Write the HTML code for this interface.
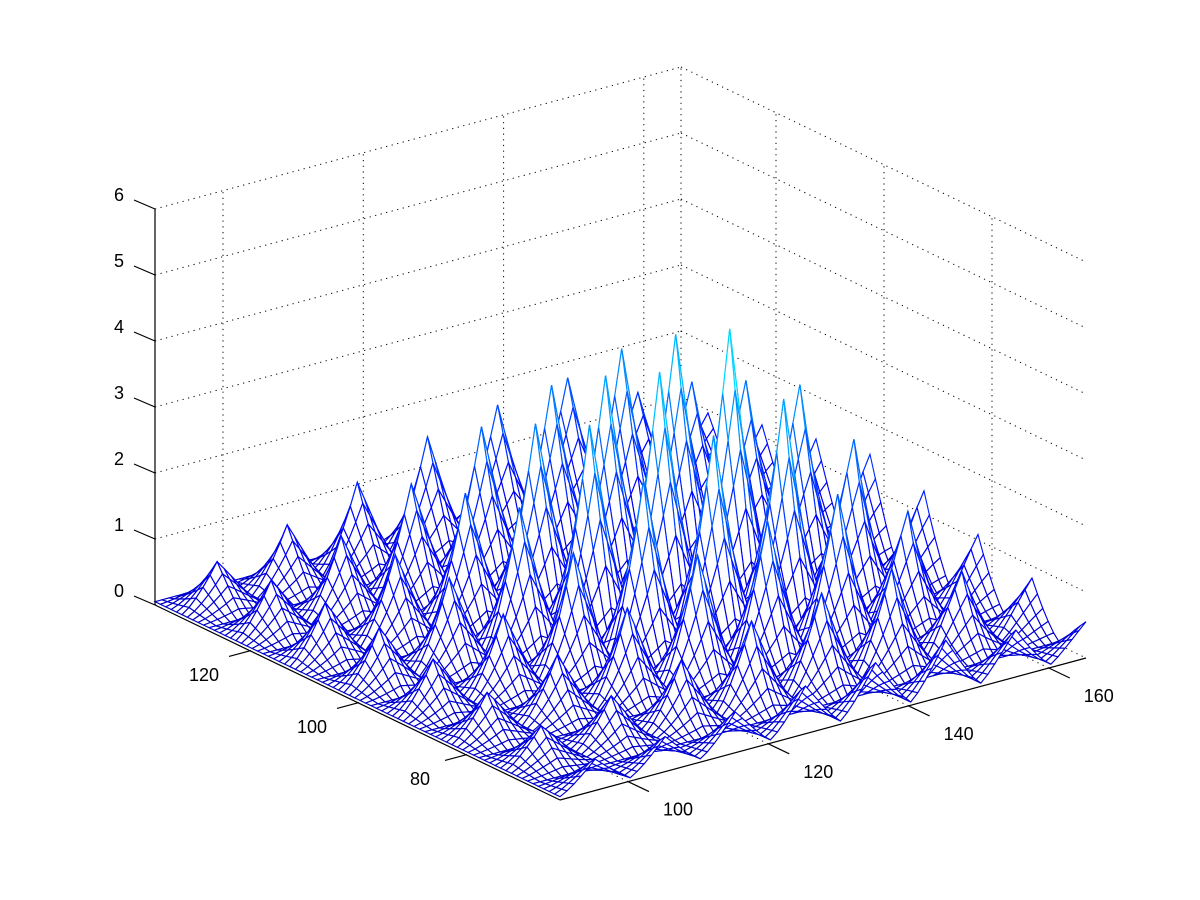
<!DOCTYPE html>
<html><head><meta charset="utf-8"><style>
html,body{margin:0;padding:0;background:#fff;}
svg{display:block;font-family:"Liberation Sans",sans-serif;}
</style></head><body>
<svg id="chart" width="1200" height="900" viewBox="0 0 1200 900" xmlns="http://www.w3.org/2000/svg">
<rect x="0" y="0" width="1200" height="900" fill="#fff"/>
<g id="grid"></g>
<g id="surf"></g>
<g id="axes"></g>
</svg>
<script>
const xTicks = [100, 120, 140, 160];
const yTicks = [80, 100, 120];
const zTicks = [0, 1, 2, 3, 4, 5, 6];
const xRange = [90.3, 165.3];
const yRange = [62.6, 137.6];
const period = 10;
// coarse peak amplitudes, rows = y from high (back-left) to low (front), cols = x low..high
const ampRow0 = [0.5, 0.9, 1.5, 1.6, 0.8];
const ampRow1 = [0.6, 1.4, 2.6, 3.2, 1.2];
const ampRow2 = [0.6, 1.5, 3.4, 4.1, 1.5];
const ampRow3 = [0.5, 1.0, 1.9, 2.1, 1.0];
const ampRow4 = [0.4, 0.5, 0.7, 0.8, 0.5];
const ampGrid = [ampRow0, ampRow1, ampRow2, ampRow3, ampRow4];

const NS = "http://www.w3.org/2000/svg";
const L = [155, 605], FR = [526, -142], LF = [405, 195], ZU = 66;
function proj(x, y, z) {
  const a = (x - xRange[0]) / (xRange[1] - xRange[0]);
  const b = (yRange[1] - y) / (yRange[1] - yRange[0]);
  return [L[0] + FR[0]*a + LF[0]*b, L[1] + FR[1]*a + LF[1]*b - ZU*z];
}
function mk(tag, attrs, parent) {
  const e = document.createElementNS(NS, tag);
  for (const k in attrs) e.setAttribute(k, attrs[k]);
  parent.appendChild(e);
  return e;
}
function line(p, q, parent, style) {
  return mk('line', Object.assign({x1:p[0].toFixed(1), y1:p[1].toFixed(1), x2:q[0].toFixed(1), y2:q[1].toFixed(1)}, style), parent);
}
const grid = document.getElementById('grid');
const dot = {stroke:'#000', 'stroke-width':1, 'stroke-dasharray':'1.2 4.5'};
const x0 = xRange[0], x1 = xRange[1], y0 = yRange[0], y1 = yRange[1];
zTicks.forEach(z => {
  let l = line(proj(x0,y1,z), proj(x1,y1,z), grid, dot);
  
  
  l = line(proj(x1,y1,z), proj(x1,y0,z), grid, dot);
  
  
});
xTicks.forEach(x => {
  let l = line(proj(x,y1,0), proj(x,y1,6), grid, dot);
  
  
  l = line(proj(x,y0,0), proj(x,y1,0), grid, dot);
  
  
});
yTicks.forEach(y => {
  let l = line(proj(x1,y,0), proj(x1,y,6), grid, dot);
  
  
  l = line(proj(x0,y,0), proj(x1,y,0), grid, dot);
  
  
});
let vl = line(proj(x1,y1,0), proj(x1,y1,6), grid, dot);



function amp(x, y) {
  const a = (x - x0) / (x1 - x0) * 4, b = (y1 - y) / (y1 - y0) * 4;
  const i = Math.min(3, Math.floor(b)), j = Math.min(3, Math.floor(a));
  const fb = b - i, fa = a - j;
  return ampGrid[i][j]*(1-fa)*(1-fb) + ampGrid[i][j+1]*fa*(1-fb) + ampGrid[i+1][j]*(1-fa)*fb + ampGrid[i+1][j+1]*fa*fb;
}
function zval(x, y) {
  let u = ((x - x0) % period) / (period/2) - 1;
  let v = ((y1 - y) % period) / (period/2) - 1;
  const p = (1 - Math.abs(u)) * (1 - Math.abs(v));
  return amp(x, y) * Math.pow(p, 1.2) + 0.05;
}
function jet(t) {
  t = Math.max(0, Math.min(1, t));
  const r = Math.max(0, Math.min(1, 1.5 - Math.abs(4*t - 3)));
  const g = Math.max(0, Math.min(1, 1.5 - Math.abs(4*t - 2)));
  const b = Math.max(0, Math.min(1, 1.5 - Math.abs(4*t - 1)));
  return 'rgb(' + Math.round(r*255) + ',' + Math.round(g*255) + ',' + Math.round(b*255) + ')';
}
const N = 75;
const xs = [], ys = [];
for (let i = 0; i <= N; i++) { xs.push(x0 + (x1-x0)*i/N); ys.push(y0 + (y1-y0)*i/N); }
const Z = ys.map(y => xs.map(x => zval(x, y)));
const quads = [];
for (let j = 0; j < N; j++) for (let i = 0; i < N; i++) {
  const a = (xs[i] - x0)/(x1-x0), b = (y1 - ys[j])/(y1-y0);
  quads.push({i, j, d: -142*a + 195*b});
}
quads.sort((p, q) => p.d - q.d);
const surf = document.getElementById('surf');
let html = '';
quads.forEach(q => {
  const i = q.i, j = q.j;
  const pts = [[i,j],[i+1,j],[i+1,j+1],[i,j+1]].map(([a,b]) => proj(xs[a], ys[b], Z[b][a]));
  const zm = (Z[j][i] + Z[j][i+1] + Z[j+1][i] + Z[j+1][i+1]) / 4;
  const c = jet(0.065 + zm / 11.5);
  html += '<path d="M' + pts.map(p => p[0].toFixed(1) + ' ' + p[1].toFixed(1)).join('L') + 'Z" fill="#fff" stroke="' + c + '" stroke-width="1.15"/>';
});
surf.innerHTML = html;

const axes = document.getElementById('axes');
const solid = {stroke:'#000', 'stroke-width':1.2};
let ax = line(proj(x0,y1,0), proj(x0,y1,6), axes, solid);


ax = line(proj(x0,y1,0), proj(x0,y0,0), axes, solid);


ax = line(proj(x0,y0,0), proj(x1,y0,0), axes, solid);


function txt(s, x, y, parent) {
  const t = mk('text', {x:x.toFixed(1), y:y.toFixed(1), 'font-size':18, 'text-anchor':'middle', fill:'#000'}, parent);
  t.textContent = s;
  return t;
}
zTicks.forEach(z => {
  const p = proj(x0,y1,z);
  let t = line(p, [p[0]-21, p[1]-9], axes, solid);
  
  
  let lb = txt(String(z), p[0]-36, p[1]-8, axes);
  
  
});
yTicks.forEach(y => {
  const p = proj(x0,y,0);
  let t = line(p, [p[0]-21, p[1]+5.6], axes, solid);
  
  
  let lb = txt(String(y), p[0]-46, p[1]+30, axes);
  
  
});
xTicks.forEach(x => {
  const p = proj(x,y0,0);
  let t = line(p, [p[0]+21, p[1]+10], axes, solid);
  
  
  let lb = txt(String(x), p[0]+50, p[1]+34, axes);
  
  
});
</script>
</body></html>
